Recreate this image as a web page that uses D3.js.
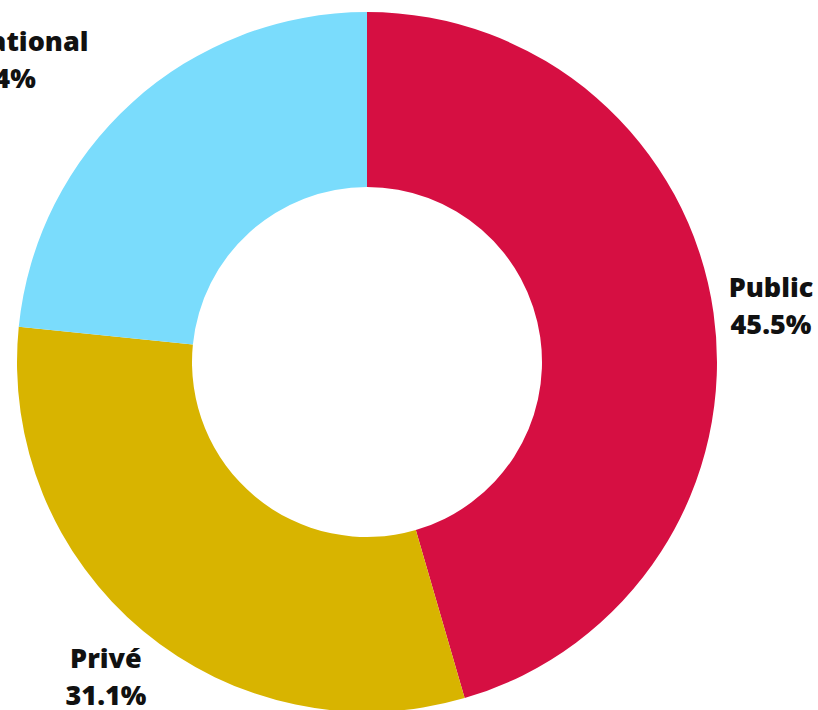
<!DOCTYPE html>
<html>
<head>
<meta charset="utf-8">
<script src="https://cdn.jsdelivr.net/npm/d3@7"></script>
<style>
  html, body { margin: 0; padding: 0; background: #ffffff; }
  svg { display: block; }
</style>
</head>
<body>
<svg id="chart" width="818" height="710"></svg>
<script>
// Data
const categories = ["Public", "Privé", "International"];
const values = [45.5, 31.1, 23.4];
const percentLabels = ["45.5%", "31.1%", "23.4%"];
const colors = ["#D60F42", "#D8B400", "#7ADCFC"];

// Layout
const layout = {
  cx: 367, cy: 362, outer: 350, inner: 175, labelR: 408,
  nudges: { "Public": [0, 0], "Privé": [0, 0], "International": [-98, 0] }
};

const svg = d3.select("#chart");
const g = svg.append("g").attr("transform", `translate(${layout.cx},${layout.cy})`);

const pie = d3.pie().sort(null).value(d => d.value);
const data = categories.map((c, i) => ({ name: c, value: values[i], pct: percentLabels[i], color: colors[i] }));
const arcs = pie(data);

const arc = d3.arc().innerRadius(layout.inner).outerRadius(layout.outer);
const labelArc = d3.arc().innerRadius(layout.labelR).outerRadius(layout.labelR);

g.selectAll("path.slice")
  .data(arcs)
  .join("path")
  .attr("class", "slice")
  .attr("d", arc)
  .attr("fill", d => d.data.color);

const labels = g.selectAll("text.lbl")
  .data(arcs)
  .join("text")
  .attr("class", "lbl")
  .attr("text-anchor", "middle")
  .attr("font-family", "'Open Sans', sans-serif")
  .attr("font-weight", 800)
  .attr("font-size", 27)
  .attr("fill", "#111111")
  .attr("transform", d => {
    const [x, y] = labelArc.centroid(d);
    const n = layout.nudges[d.data.name];
    return `translate(${x + n[0]},${y + n[1]})`;
  });

labels.append("tspan").attr("x", 0).attr("y", -8).text(d => d.data.name);
labels.append("tspan").attr("x", 0).attr("y", 29).text(d => d.data.pct);
</script>
</body>
</html>
